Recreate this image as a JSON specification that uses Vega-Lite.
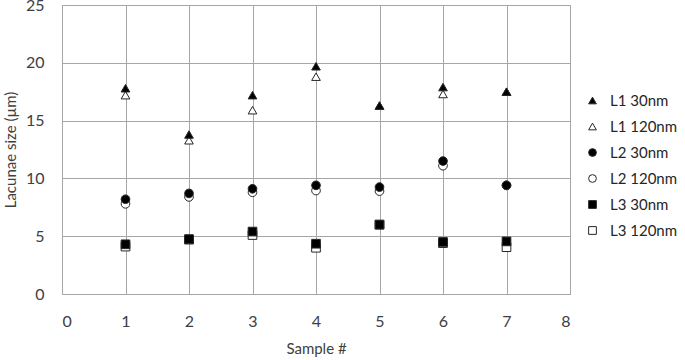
{
  "$schema": "https://vega.github.io/schema/vega-lite/v6.json",
  "autosize": {"type": "none"},
  "width": 508,
  "height": 289,
  "padding": {"left": 62, "top": 5, "right": 115, "bottom": 66},
  "background": "white",
  "config": {
    "view": {"stroke": "#a6a6a6", "strokeWidth": 1},
    "font": "Lato",
    "axis": {
      "domain": false,
      "ticks": false,
      "gridColor": "#a6a6a6",
      "gridWidth": 1,
      "gridOpacity": 1,
      "labelFont": "Lato",
      "labelFontSize": 16,
      "labelColor": "#404040",
      "titleFont": "Lato",
      "titleFontSize": 15,
      "titleFontWeight": "normal",
      "titleColor": "#404040"
    },
    "legend": {
      "labelFont": "Lato",
      "labelFontSize": 15,
      "labelColor": "#262626",
      "padding": 0
    }
  },
  "data": {
    "values": [
      {"sample": 1, "series": "L1 120nm", "value": 17.2},
      {"sample": 2, "series": "L1 120nm", "value": 13.3},
      {"sample": 3, "series": "L1 120nm", "value": 15.9},
      {"sample": 4, "series": "L1 120nm", "value": 18.8},
      {"sample": 5, "series": "L1 120nm", "value": 16.3},
      {"sample": 6, "series": "L1 120nm", "value": 17.3},
      {"sample": 7, "series": "L1 120nm", "value": 17.5},
      {"sample": 1, "series": "L2 120nm", "value": 7.8},
      {"sample": 2, "series": "L2 120nm", "value": 8.4},
      {"sample": 3, "series": "L2 120nm", "value": 8.8},
      {"sample": 4, "series": "L2 120nm", "value": 8.95},
      {"sample": 5, "series": "L2 120nm", "value": 8.9},
      {"sample": 6, "series": "L2 120nm", "value": 11.1},
      {"sample": 7, "series": "L2 120nm", "value": 9.4},
      {"sample": 1, "series": "L3 120nm", "value": 4.1},
      {"sample": 2, "series": "L3 120nm", "value": 4.7},
      {"sample": 3, "series": "L3 120nm", "value": 5.1},
      {"sample": 4, "series": "L3 120nm", "value": 4.0},
      {"sample": 5, "series": "L3 120nm", "value": 6.0},
      {"sample": 6, "series": "L3 120nm", "value": 4.4},
      {"sample": 7, "series": "L3 120nm", "value": 4.05},
      {"sample": 1, "series": "L1 30nm", "value": 17.8},
      {"sample": 2, "series": "L1 30nm", "value": 13.8},
      {"sample": 3, "series": "L1 30nm", "value": 17.2},
      {"sample": 4, "series": "L1 30nm", "value": 19.7},
      {"sample": 5, "series": "L1 30nm", "value": 16.3},
      {"sample": 6, "series": "L1 30nm", "value": 17.9},
      {"sample": 7, "series": "L1 30nm", "value": 17.5},
      {"sample": 1, "series": "L2 30nm", "value": 8.2},
      {"sample": 2, "series": "L2 30nm", "value": 8.7},
      {"sample": 3, "series": "L2 30nm", "value": 9.1},
      {"sample": 4, "series": "L2 30nm", "value": 9.4},
      {"sample": 5, "series": "L2 30nm", "value": 9.25},
      {"sample": 6, "series": "L2 30nm", "value": 11.5},
      {"sample": 7, "series": "L2 30nm", "value": 9.4},
      {"sample": 1, "series": "L3 30nm", "value": 4.3},
      {"sample": 2, "series": "L3 30nm", "value": 4.75},
      {"sample": 3, "series": "L3 30nm", "value": 5.4},
      {"sample": 4, "series": "L3 30nm", "value": 4.35},
      {"sample": 5, "series": "L3 30nm", "value": 6.0},
      {"sample": 6, "series": "L3 30nm", "value": 4.5},
      {"sample": 7, "series": "L3 30nm", "value": 4.55}
    ]
  },
  "mark": {"type": "point", "filled": true, "size": 75, "stroke": "#262626", "strokeWidth": 1, "opacity": 1},
  "encoding": {
    "x": {
      "field": "sample",
      "type": "quantitative",
      "scale": {"domain": [0, 8], "nice": false, "zero": false},
      "axis": {"values": [0, 1, 2, 3, 4, 5, 6, 7, 8], "title": "Sample #", "labelPadding": 19, "titlePadding": 12, "format": "d"}
    },
    "y": {
      "field": "value",
      "type": "quantitative",
      "scale": {"domain": [0, 25], "nice": false},
      "axis": {"values": [0, 5, 10, 15, 20, 25], "title": "Lacunae size (µm)", "labelPadding": 18, "titlePadding": 7, "format": "d"}
    },
    "shape": {
      "field": "series",
      "type": "nominal",
      "scale": {
        "domain": ["L1 30nm", "L1 120nm", "L2 30nm", "L2 120nm", "L3 30nm", "L3 120nm"],
        "range": ["triangle-up", "triangle-up", "circle", "circle", "square", "square"]
      },
      "legend": {
        "orient": "none",
        "legendX": 523,
        "legendY": 88,
        "title": null,
        "symbolSize": 60,
        "rowPadding": 10,
        "labelOffset": 10,
        "symbolStrokeColor": "#262626",
        "symbolStrokeWidth": 1
      }
    },
    "color": {
      "field": "series",
      "type": "nominal",
      "scale": {
        "domain": ["L1 30nm", "L1 120nm", "L2 30nm", "L2 120nm", "L3 30nm", "L3 120nm"],
        "range": ["#000000", "#ffffff", "#000000", "#ffffff", "#000000", "#ffffff"]
      }
    }
  }
}
